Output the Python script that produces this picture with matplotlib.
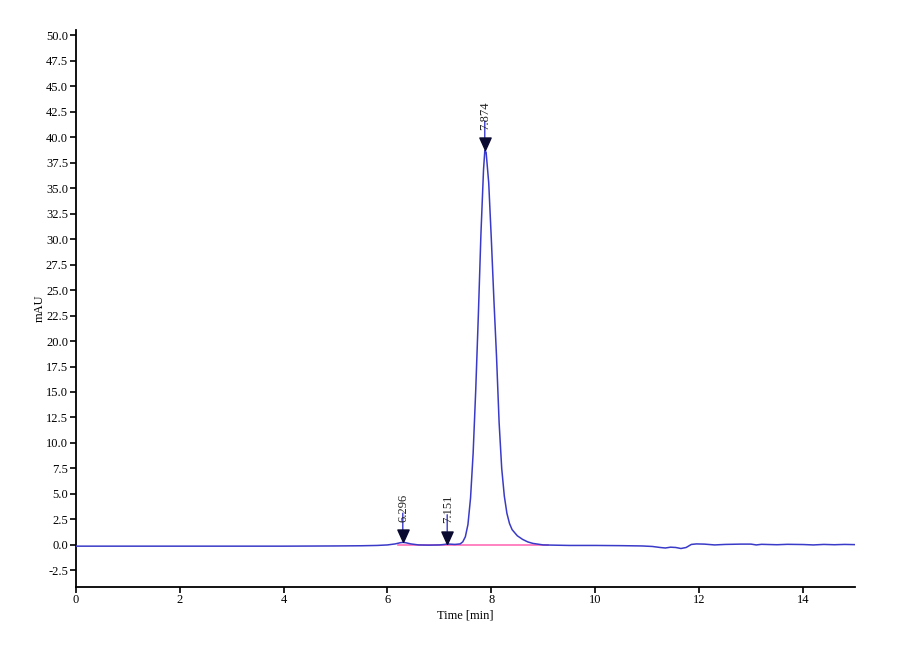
import matplotlib
matplotlib.use("Agg")
import matplotlib.pyplot as plt
import numpy as np

# Chromatogram trace
time_min = [0, 1, 2, 3, 4, 5, 5.5, 5.8, 6.0, 6.15, 6.25, 6.3, 6.35, 6.45, 6.6, 6.8,
            7.0, 7.1, 7.15, 7.2, 7.3, 7.4, 7.45, 7.5, 7.55, 7.6, 7.65, 7.7, 7.75,
            7.8, 7.85, 7.875, 7.9, 7.95, 8.0, 8.05, 8.1, 8.15, 8.2, 8.25, 8.3, 8.35,
            8.4, 8.5, 8.6, 8.7, 8.8, 9.0, 9.5, 10.0, 10.5, 10.9, 11.1, 11.25, 11.35,
            11.45, 11.55, 11.65, 11.75, 11.85, 11.95, 12.1, 12.3, 12.5, 12.8, 13.0,
            13.1, 13.2, 13.5, 13.7, 14.0, 14.2, 14.4, 14.6, 14.8, 15.0]
signal_mAU = [-0.12, -0.12, -0.12, -0.12, -0.12, -0.1, -0.08, -0.05, 0.0, 0.1, 0.22, 0.25,
              0.22, 0.1, 0.0, -0.02, 0.0, 0.05, 0.1, 0.08, 0.05, 0.1, 0.3, 0.8, 2.0,
              4.6, 9.0, 15.2, 22.5, 30.5, 36.8, 38.7, 38.5, 35.5, 30.0, 24.0, 18.5,
              12.0, 7.5, 4.8, 3.1, 2.1, 1.5, 0.9, 0.55, 0.3, 0.15, 0.0, -0.05, -0.05,
              -0.07, -0.1, -0.15, -0.25, -0.3, -0.22, -0.25, -0.35, -0.25, 0.05, 0.1,
              0.08, 0.0, 0.05, 0.08, 0.08, 0.0, 0.06, 0.02, 0.06, 0.04, 0.0, 0.05,
              0.02, 0.05, 0.03]

# Integration baseline
baseline_t = [6.2, 9.1]
baseline_v = [0.0, 0.0]

# Peak annotations
peak_labels = ["6.296", "7.151", "7.874"]
peak_t = [6.296, 7.151, 7.874]
peak_v = [0.25, 0.1, 38.7]

y_ticks = [-2.5 + 2.5 * i for i in range(22)]
x_ticks = [0, 2, 4, 6, 8, 10, 12, 14]

serif = ["Liberation Serif", "DejaVu Serif"]
plt.rcParams['font.family'] = serif

fig = plt.figure(figsize=(9, 6.6), dpi=100)
ax = fig.add_axes([0.0841, 0.111, 0.8659, 0.8435])

ax.plot(baseline_t, baseline_v, color="#ff60b0", lw=1.1, zorder=2)
ax.plot(time_min, signal_mAU, color="#3a3ac8", lw=1.1, zorder=3)

tri = [(0, 0), (-0.45, 1), (0.45, 1), (0, 0)]
for lab, t, v in zip(peak_labels, peak_t, peak_v):
    ax.plot([t], [v], marker=tri, markersize=18, color="#0a0a30", linestyle="none", zorder=5)
    ax.annotate("", xy=(t, v), xytext=(0, 21), textcoords="offset points",
                arrowprops=dict(arrowstyle="-", color="#3a3ac8", lw=1.0,
                                shrinkA=0, shrinkB=9))
    ax.annotate(lab, xy=(t, v), xytext=(0.5, 15), textcoords="offset points",
                rotation=90, ha="center", va="bottom", fontsize=9, color="#222222")

ax.set_xlim(0, 15)
ax.set_ylim(-4.1, 50.5)
ax.set_xticks(x_ticks)
ax.set_xticklabels([str(x) for x in x_ticks])
ax.set_yticks(y_ticks)
ax.set_yticklabels([f"{y:.1f}" for y in y_ticks])
ax.tick_params(axis="both", direction="out", length=4, width=1.2, labelsize=9, pad=1.5)

for s in ["top", "right"]:
    ax.spines[s].set_visible(False)
for s in ["left", "bottom"]:
    ax.spines[s].set_linewidth(1.3)

ax.set_xlabel("Time [min]", fontsize=9, labelpad=2)
ax.set_ylabel("mAU", fontsize=9, labelpad=0)

fig.savefig("out.png", dpi=100)
